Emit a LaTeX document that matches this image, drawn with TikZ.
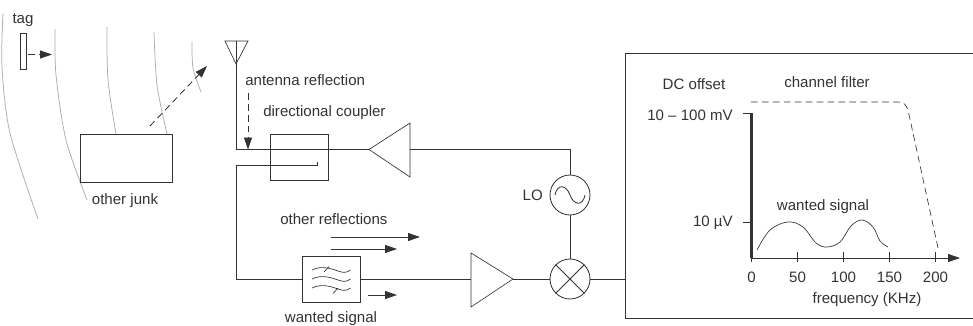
\documentclass[tikz,border=0pt]{standalone}
\usepackage{fontspec}
\setmainfont{Liberation Sans}
\usetikzlibrary{arrows.meta,calc}
\definecolor{ink}{HTML}{333333}
\definecolor{wave}{HTML}{ABABAB}
\tikzset{
  wire/.style={draw=ink,line width=0.62pt},
  thinwire/.style={draw=ink,line width=0.5pt},
  wavefront/.style={draw=wave,line width=0.55pt},
  lbl/.style={font=\fontsize{11.3pt}{13pt}\selectfont,text=ink,inner sep=0pt},
  boxn/.style={wire,rectangle,inner sep=0pt,fill=white},
  circn/.style={wire,circle,inner sep=0pt,minimum size=30pt,fill=white},
  arrowtip/.style={-{Triangle[length=9pt,width=6pt]}},
  dashline/.style={dash pattern=on 5pt off 3.2pt},
}
\begin{document}
\begin{tikzpicture}[x=0.75pt,y=-0.75pt]
\useasboundingbox (0,0) rectangle (973,325);
% wavefronts
\draw[wavefront] plot[smooth] coordinates {(3,13) (2,67) (10,133) (38,219)};
\draw[wavefront] plot[smooth] coordinates {(55,29) (56,75) (66,140) (87,200)};
\draw[wavefront] plot[smooth] coordinates {(107,27) (108,80) (116,134)};
\draw[wavefront] plot[smooth] coordinates {(154,32) (157,85) (167,134)};
\draw[wavefront] plot[smooth] coordinates {(192,42) (193,68) (201,92)};
% tag and junk
\node[lbl] (taglabel) at (23,20) {tag};
\node[boxn,minimum width=4.5pt,minimum height=27.5pt] (tag) at (23,51.5) {};
\coordinate (tagarrow) at (52,54.5);
\draw[wire,arrowtip,dashline] ($(tag.east)+(2,3)$) -- (tagarrow);
\node[boxn,minimum width=69pt,minimum height=36.5pt] (junk) at (126.5,158.5) {};
\node[lbl] (junklabel) at (125,201) {other junk};
\coordinate (junkstart) at (150,126);
\coordinate (junkend) at (207,66);
\draw[wire,arrowtip,dashline] (junkstart) -- (junkend);
% antenna and top rail
\coordinate (antL) at (225,41);
\coordinate (antR) at (248,41);
\coordinate (antA) at (236,64);
\coordinate (antT) at (236,41);
\coordinate (corner1) at (236,149.5);
\draw[thinwire] (antL) -- (antR) -- (antA) -- cycle;
\coordinate (ampTA) at (369,149.5);
\coordinate (ampTU) at (410,123);
\coordinate (ampTL) at (410,177);
\coordinate (ampTM) at (410,149.5);
\node[lbl,anchor=west] (antlabel) at (245,80) {antenna reflection};
\node[lbl,anchor=west] (couplabel) at (263,113) {directional coupler};
% LO, mixer
\node[circn] (lo) at (570,195) {};
\node[circn] (mix) at (570,279) {};
\node[lbl,anchor=east] (lolabel) at (543,195) {LO};
\draw[wire] (lo.north) |- (ampTM);
\draw[wire] (lo.south) -- (mix.north);
\draw[wire] (555,195) .. controls (557,184) and (566,184) .. (570,195) .. controls (574,206) and (583,206) .. (585,195);
\draw[wire] (mix.45) -- (mix.225) (mix.135) -- (mix.315);
% amp top
\draw[thinwire] (ampTA) -- (ampTU) -- (ampTL) -- cycle;
\draw[wire] (antT) -- (corner1) -- (ampTA);
% coupler
\node[boxn,fill=none,minimum width=43.5pt,minimum height=34.5pt] (coup) at (299,157) {};
\coordinate (c1) at (236,165);
\coordinate (c2) at (317,165);
\coordinate (c3) at (317,162);
\coordinate (c4) at (236,279);
\draw[wire] (c3) -- (c2) -- (c1) -- (c4);
\coordinate (reftop) at (248,93);
\coordinate (refend) at (248,149.5);
\draw[wire,arrowtip,dashline] (reftop) -- (refend);
% bottom rail
\node[boxn,minimum width=43pt,minimum height=34pt] (filt) at (331.5,279.5) {};
\coordinate (ampBU) at (471,253);
\coordinate (ampBL) at (471,307);
\coordinate (ampBM) at (471,279);
\coordinate (ampBA) at (513,279);
\draw[wire] (c4) -- (filt.west |- c4);
\draw[wire] (filt.east |- c4) -- (ampBM);
\draw[thinwire] (ampBU) -- (ampBA) -- (ampBL) -- cycle;
\draw[wire] (ampBA) -- (mix.west);
\coordinate (panelin) at (625,279);
\draw[wire] (mix.east) -- (panelin);
% filter symbol
\draw[thinwire] (312,270) .. controls (322,265) and (332,269) .. (338,271) .. controls (344,273) and (346,273) .. (350.5,270);
\draw[thinwire] (312,279) .. controls (322,274) and (332,278) .. (338,280) .. controls (344,282) and (346,282) .. (350.5,279);
\draw[thinwire] (312,288) .. controls (322,283) and (332,287) .. (338,289) .. controls (344,291) and (346,291) .. (350.5,288);
\draw[thinwire] (324,272) -- (329,266.5);
\draw[thinwire] (333,293.5) -- (338,288);
% reflections
\node[lbl,anchor=west] (othlabel) at (280,219) {other reflections};
\coordinate (a1s) at (331,237);
\coordinate (a1e) at (420,237);
\coordinate (a2s) at (331,249);
\coordinate (a2e) at (397,249);
\coordinate (a3s) at (368,295);
\coordinate (a3e) at (397,295);
\draw[wire,arrowtip] (a1s) -- (a1e);
\draw[wire,arrowtip] (a2s) -- (a2e);
\draw[wire,arrowtip] (a3s) -- (a3e);
\node[lbl] (wantlabel) at (331,319) {wanted signal};
% panel
\coordinate (pTR) at (973,53);
\coordinate (pTL) at (625,53);
\coordinate (pBL) at (625,318);
\coordinate (pBR) at (973,318);
\draw[wire] (pTR) -- (pTL) -- (pBL) -- (pBR);
% graph
\coordinate (origin) at (751.5,258);
\coordinate (ytop) at (751.5,113);
\coordinate (xend) at (960,258);
\draw[draw=ink,line width=2.6pt] (origin) -- (ytop);
\draw[wire,arrowtip] (origin) -- (xend);
\coordinate (tick1) at (743,113);
\coordinate (tick2) at (743,222);
\draw[thinwire] (tick1) -- (ytop);
\draw[thinwire] (tick2) -- (ytop |- tick2);
\foreach \x/\t in {751.5/0,797.5/50,843.5/100,889.5/150,935.5/200}{
  \draw[thinwire] (\x,252) -- (\x,262);
  \node[lbl] (xt\t) at (\x,277) {\t};
}
\node[lbl,anchor=east] (ylab1) at (733,115) {10 -- 100 mV};
\node[lbl,anchor=east] (ylab2) at (733,223) {10 µV};
\node[lbl] (dclabel) at (694,84) {DC offset};
\node[lbl] (chlabel) at (827,82) {channel filter};
\node[lbl] (wslabel) at (823,207) {wanted signal};
\node[lbl] (frlabel) at (867,300) {frequency (KHz)};
\draw[thinwire,dashline] (751,102) -- (898,102) .. controls (904,102) and (906,105) .. (908,110) -- (938,248);
\draw[thinwire] plot[smooth,tension=0.6] coordinates {(757,250) (770,230) (788,222) (803,227) (816,243) (827,247) (840,242) (851,226) (862,220) (873,227) (880,241) (888,247)};
\end{tikzpicture}
\end{document}
